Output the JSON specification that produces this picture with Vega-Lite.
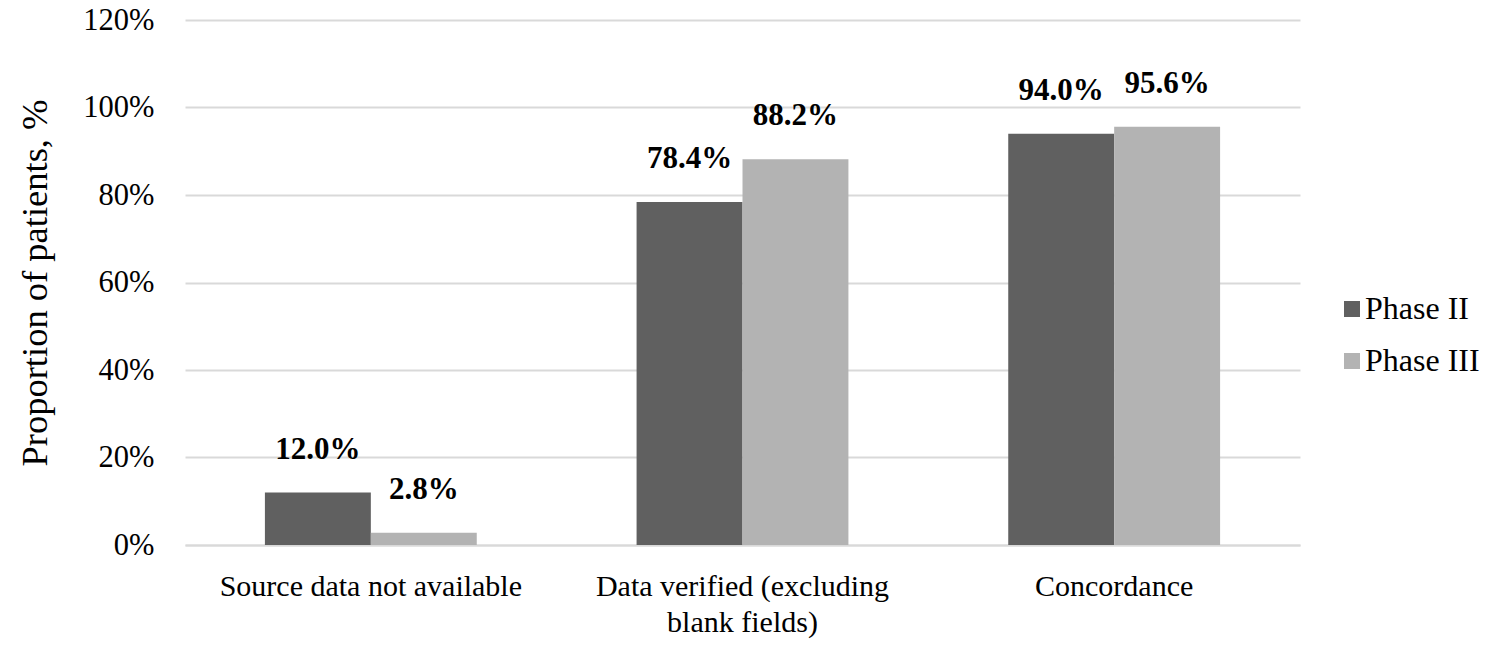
{
  "$schema": "https://vega.github.io/schema/vega-lite/v6.json",
  "width": 1115,
  "height": 525,
  "autosize": {"type": "none"},
  "padding": {"left": 185, "top": 20, "right": 211, "bottom": 121},
  "background": "white",
  "config": {
    "font": "Liberation Serif",
    "view": {"stroke": null}
  },
  "data": {
    "values": [
      {"category": "Source data not available", "phase": "Phase II", "value": 0.12},
      {"category": "Source data not available", "phase": "Phase III", "value": 0.028},
      {"category": "Data verified (excluding blank fields)", "phase": "Phase II", "value": 0.784},
      {"category": "Data verified (excluding blank fields)", "phase": "Phase III", "value": 0.882},
      {"category": "Concordance", "phase": "Phase II", "value": 0.94},
      {"category": "Concordance", "phase": "Phase III", "value": 0.956}
    ]
  },
  "encoding": {
    "x": {
      "field": "category",
      "type": "nominal",
      "sort": null,
      "scale": {"paddingInner": 0.43, "paddingOuter": 0.215},
      "axis": {
        "title": null,
        "labelAngle": 0,
        "labelFont": "Liberation Serif",
        "labelFontSize": 30,
        "labelColor": "black",
        "labelPadding": 26,
        "labelLineHeight": 36,
        "labelBaseline": "top",
        "labelLimit": 500,
        "ticks": false,
        "domainColor": "#d9d9d9",
        "domainWidth": 2,
        "labelExpr": "datum.label == 'Data verified (excluding blank fields)' ? ['Data verified (excluding', 'blank fields)'] : datum.label"
      }
    },
    "xOffset": {"field": "phase", "type": "nominal", "scale": {"paddingInner": 0, "paddingOuter": 0}},
    "y": {
      "field": "value",
      "type": "quantitative",
      "scale": {"domain": [0, 1.2]},
      "axis": {
        "title": "Proportion of patients, %",
        "titleFont": "Liberation Serif",
        "titleFontSize": 36.5,
        "titleFontWeight": "normal",
        "titleColor": "black",
        "titlePadding": 28,
        "format": ".0%",
        "values": [0, 0.2, 0.4, 0.6, 0.8, 1.0, 1.2],
        "labelFont": "Liberation Serif",
        "labelFontSize": 30.5,
        "labelColor": "black",
        "labelPadding": 31,
        "ticks": false,
        "domain": false,
        "gridColor": "#d9d9d9",
        "gridWidth": 2
      }
    }
  },
  "layer": [
    {
      "mark": {"type": "bar"},
      "encoding": {
        "color": {
          "field": "phase",
          "type": "nominal",
          "scale": {"domain": ["Phase II", "Phase III"], "range": ["#606060", "#b3b3b3"]},
          "legend": {
            "title": null,
            "orient": "none",
            "legendX": 1151,
            "legendY": 273,
            "symbolType": "square",
            "symbolSize": 256,
            "symbolStrokeWidth": 0,
            "symbolOpacity": 1,
            "labelFont": "Liberation Serif",
            "labelFontSize": 32,
            "labelColor": "black",
            "labelOffset": -3,
            "rowPadding": 20,
            "labelLimit": 300
          }
        }
      }
    },
    {
      "mark": {"type": "text", "font": "Liberation Serif", "fontSize": 31, "fontWeight": "bold", "baseline": "alphabetic", "dy": -34, "color": "black"},
      "encoding": {
        "text": {"field": "value", "type": "quantitative", "format": ".1%"}
      }
    }
  ]
}
